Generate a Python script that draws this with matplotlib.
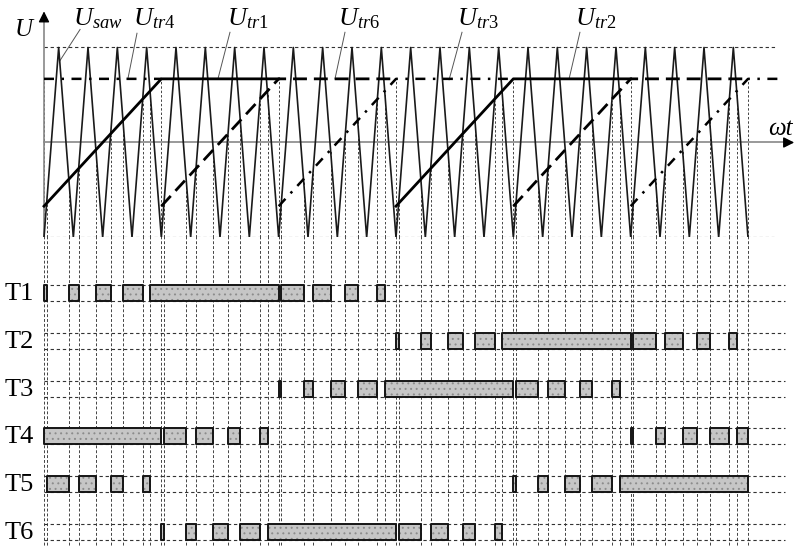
import matplotlib
matplotlib.use("Agg")
import matplotlib.pyplot as plt
import numpy as np

plt.rcParams['font.family'] = ['Liberation Serif', 'DejaVu Serif']
plt.rcParams['mathtext.fontset'] = 'custom'
plt.rcParams['mathtext.rm'] = 'Liberation Serif'
plt.rcParams['mathtext.it'] = 'Liberation Serif:italic'
plt.rcParams['hatch.linewidth'] = 0.7

# time in carrier periods (24 carrier periods over the drawn interval)
saw_t = [0, 0.5, 1, 1.5, 2, 2.5, 3, 3.5, 4, 4.5, 5, 5.5, 6, 6.5, 7, 7.5,
         8, 8.5, 9, 9.5, 10, 10.5, 11, 11.5, 12, 12.5, 13, 13.5, 14, 14.5, 15, 15.5,
         16, 16.5, 17, 17.5, 18, 18.5, 19, 19.5, 20, 20.5, 21, 21.5, 22, 22.5, 23, 23.5, 24]
saw_u = [-1, 1, -1, 1, -1, 1, -1, 1, -1, 1, -1, 1, -1, 1, -1, 1,
         -1, 1, -1, 1, -1, 1, -1, 1, -1, 1, -1, 1, -1, 1, -1, 1,
         -1, 1, -1, 1, -1, 1, -1, 1, -1, 1, -1, 1, -1, 1, -1, 1, -1]

# modulating signals (nan breaks the line)
solid_t = [0, 4, 8, np.nan, 12, 16, 20]
solid_u = [-0.67, 0.67, 0.67, np.nan, -0.67, 0.67, 0.67]
dashed_t = [4, 8, 12, np.nan, 16, 20, 24]
dashed_u = [-0.67, 0.67, 0.67, np.nan, -0.67, 0.67, 0.67]
dashdot_t = [0, 4, np.nan, 8, 12, 16, np.nan, 20, 24, 25.2]
dashdot_u = [0.67, 0.67, np.nan, -0.67, 0.67, 0.67, np.nan, -0.67, 0.67, 0.67]
level = 0.67

# signal labels: name, text x, leader start (t, U), leader end (t, U)
label_names = ['saw', 'tr4', 'tr1', 'tr6', 'tr3', 'tr2']
label_x = [0.99, 3.03, 6.24, 10.02, 14.08, 18.10]
leader_t0 = [1.23, 3.17, 6.34, 10.26, 14.25, 18.27]
leader_u0 = [1.19, 1.15, 1.16, 1.16, 1.16, 1.16]
leader_t1 = [0.54, 2.86, 5.93, 9.92, 13.81, 17.90]
leader_u1 = [0.86, 0.67, 0.67, 0.67, 0.66, 0.67]

# switch conduction intervals (start, end) in carrier periods
rows = ['T1', 'T2', 'T3', 'T4', 'T5', 'T6']
T1 = [(0.00, 0.09), (0.85, 1.18), (1.77, 2.27), (2.69, 3.36), (3.62, 8.00),
      (8.09, 8.85), (9.18, 9.77), (10.27, 10.69), (11.36, 11.62)]
T2 = [(12.00, 12.09), (12.85, 13.18), (13.77, 14.27), (14.69, 15.36), (15.62, 20.00),
      (20.09, 20.85), (21.18, 21.77), (22.27, 22.69), (23.36, 23.62)]
T3 = [(8.00, 8.09), (8.85, 9.18), (9.77, 10.27), (10.69, 11.36), (11.62, 16.00),
      (16.09, 16.85), (17.18, 17.77), (18.27, 18.69), (19.36, 19.62)]
T4 = [(0.00, 4.00), (4.09, 4.85), (5.18, 5.77), (6.27, 6.69), (7.36, 7.62),
      (20.00, 20.09), (20.85, 21.18), (21.77, 22.27), (22.69, 23.36), (23.62, 24.00)]
T5 = [(0.09, 0.85), (1.18, 1.77), (2.27, 2.69), (3.36, 3.62), (16.00, 16.09),
      (16.85, 17.18), (17.77, 18.27), (18.69, 19.36), (19.62, 24.00)]
T6 = [(4.00, 4.09), (4.85, 5.18), (5.77, 6.27), (6.69, 7.36), (7.62, 12.00),
      (12.09, 12.85), (13.18, 13.77), (14.27, 14.69), (15.36, 15.62)]
pulses = [T1, T2, T3, T4, T5, T6]

W, H = 798, 547
x0, per = 44, 704 / 24          # pixel of t=0, pixels per carrier period
xlim = (-x0 / per, (W - x0) / per)
split = 237.5                    # pixel row where the lower part starts

fig = plt.figure(figsize=(W / 100, H / 100), dpi=100)
ax = fig.add_axes([0, 1 - split / H, 1, split / H])
ax2 = fig.add_axes([0, 0, 1, 1 - split / H])
for a in (ax, ax2):
    a.set_xlim(*xlim)
    a.axis('off')
ax.set_ylim(-1, -1 + split / 95)
row_sp = 47.8
ax2.set_ylim((H - 293) / row_sp, (split - 293) / row_sp)

grid_kw = dict(color='#333333', lw=0.8, ls=(0, (3, 2.5)))

# upper part
ax.plot([0, 25.0], [1, 1], **grid_kw)
ax.plot([0, 24.9], [-1, -1], **grid_kw)
ax.plot(saw_t, saw_u, color='#1a1a1a', lw=1.2, zorder=3)
ax.plot(solid_t, solid_u, color='black', lw=2.0, zorder=4)
ax.plot(dashed_t, dashed_u, color='black', lw=2.0, ls=(0, (5, 2.5)), zorder=4)
ax.plot(dashdot_t, dashdot_u, color='black', lw=1.8, ls=(0, (4, 3, 1, 3)), zorder=4)

# switching instants
edges = sorted(set(e for row in pulses for p in row for e in p))
for e in edges:
    top = np.interp(e, saw_t, saw_u)
    if top < -0.95:
        top = level
    ax.plot([e, e], [-1, top], color='#444444', lw=0.7, ls=(0, (2.5, 2)), zorder=2)
    ax2.plot([e, e], [xlim[0] * 0 - 2, 6], color='#444444', lw=0.7, ls=(0, (3, 2)), zorder=1)

# axes with arrows
ax.plot([0, 25.3], [0, 0], color='#888888', lw=1.2, zorder=2)
ax.plot([0, 0], [-1, 1.3], color='#888888', lw=1.2, zorder=2)
ax.annotate('', xy=(25.67, 0), xytext=(25.2, 0),
            arrowprops=dict(arrowstyle='-|>', color='black', lw=1, mutation_scale=16))
ax.annotate('', xy=(0, 1.41), xytext=(0, 1.25),
            arrowprops=dict(arrowstyle='-|>', color='black', lw=1, mutation_scale=16))
ax.text(-0.70, 1.12, 'U', fontsize=18, style='italic', ha='center', va='baseline')
ax.text(24.68, 0.08, 'ωt', fontsize=18, style='italic', ha='left', va='baseline')

for name, lx, a0, b0, a1, b1 in zip(label_names, label_x, leader_t0, leader_u0,
                                     leader_t1, leader_u1):
    if name == 'saw':
        s = r'$U_{saw}$'
    else:
        s = r'$U_{tr\mathrm{%s}}$' % name[2]
    ax.text(lx, 1.23, s, fontsize=19, ha='left', va='baseline')
    ax.plot([a0, a1], [b0, b1], color='#555555', lw=0.7)

# lower part: switch signals
hb = 8 / row_sp
for i, (name, row) in enumerate(zip(rows, pulses)):
    ax2.plot([0, 25.25], [i - hb, i - hb], **grid_kw)
    ax2.plot([0, 25.25], [i + hb, i + hb], **grid_kw)
    spans = [(s, e - s) for s, e in row]
    ax2.broken_barh(spans, (i - hb, 2 * hb), facecolors='#c6c6c6',
                    edgecolors='#8c8c8c', linewidths=0, hatch='...', zorder=3)
    ax2.broken_barh(spans, (i - hb, 2 * hb), facecolors='none',
                    edgecolors='#151515', linewidths=1.4, zorder=4)
    ax2.text(-1.33, i + 0.02, name, fontsize=19, ha='left', va='center')

fig.savefig('out.png', dpi=100)
